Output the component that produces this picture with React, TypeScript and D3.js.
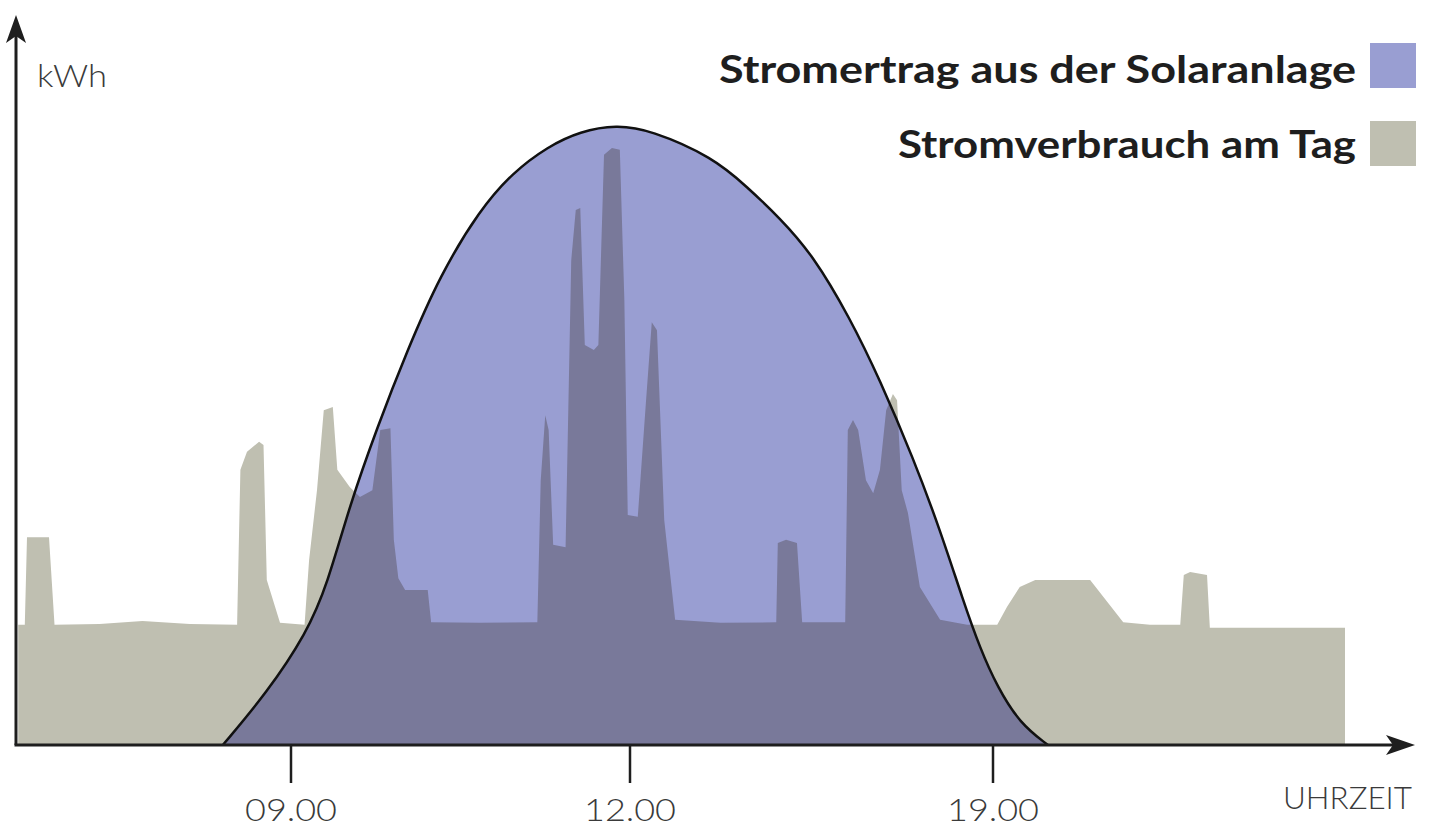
import React from "react";
import * as d3 from "d3";

// time of day (hours) and energy (kWh, schematic units)
const consumptionHours = [
  6.52, 6.58, 6.6, 6.8, 6.85, 7.26, 7.65, 8.08, 8.51, 8.54, 8.6, 8.71, 8.75, 8.78, 8.9,
  9.12, 9.16, 9.23, 9.29, 9.37, 9.41, 9.52, 9.61, 9.72, 9.79, 9.88, 9.91, 9.95, 10.01, 10.21, 10.24,
  10.67, 11.18, 11.21, 11.25, 11.28, 11.32, 11.43, 11.48, 11.52, 11.56, 11.6, 11.68, 11.72, 11.77,
  11.84, 11.91, 11.95, 11.98, 12.15, 12.31, 12.42, 12.52, 12.66, 12.87, 13.74, 14.82, 14.85, 15.01,
  15.22, 15.32, 16.15, 16.2, 16.3, 16.4, 16.55, 16.69, 16.82, 16.94, 17.07, 17.15, 17.24, 17.36,
  17.59, 17.98, 18.5, 19.06, 19.2, 19.38, 19.6, 20.38, 20.85, 21.23, 21.66, 21.71, 21.8, 22.04,
  22.08, 24.0,
];
const consumptionKWh = [
  1.94, 1.94, 3.35, 3.35, 1.94, 1.95, 2.0, 1.95, 1.94, 4.44, 4.73, 4.89, 4.84, 2.66, 1.97,
  1.94, 2.98, 4.11, 5.4, 5.45, 4.44, 4.16, 4.0, 4.11, 5.08, 5.11, 3.31, 2.69, 2.5, 2.5, 1.98,
  1.97, 1.98, 4.27, 5.32, 5.08, 3.23, 3.19, 7.82, 8.63, 8.66, 6.45, 6.37, 6.45, 9.52,
  9.63, 9.6, 7.18, 3.71, 3.68, 5.56, 6.82, 6.69, 3.63, 2.02, 1.97, 1.98, 3.26, 3.31,
  3.26, 1.98, 1.98, 5.08, 5.24, 5.08, 4.27, 4.06, 4.44, 5.4, 5.66, 5.56, 4.11, 3.74,
  2.55, 2.02, 1.94, 1.94, 2.23, 2.55, 2.66, 2.66, 1.98, 1.94, 1.94, 2.74, 2.79, 2.74,
  1.89, 1.89,
];
const solarHours = [
  8.38, 8.78, 9.14, 9.32, 9.52, 9.76, 10.03, 10.32, 10.67, 10.96, 11.27, 11.56, 11.88, 12.39,
  13.6, 14.26, 14.89, 15.53, 16.24, 16.82, 17.46, 17.98, 18.42, 18.75, 19.06, 19.38, 19.78,
];
const solarKWh = [
  0, 0.84, 1.81, 2.58, 3.87, 5.11, 6.37, 7.58, 8.63, 9.23, 9.65, 9.9, 10.0, 9.92,
  9.48, 9.0, 8.5, 7.9, 6.89, 5.89, 4.63, 3.47, 2.34, 1.56, 0.94, 0.35, 0,
];
const tickHours = [9, 12, 19];
const tickLabels = ["09.00", "12.00", "19.00"];
const legendLabels = ["Stromertrag aus der Solaranlage", "Stromverbrauch am Tag"];

const SOLAR = "#999ed2";
const GREY = "#bfbfb1";
const OVERLAP = "#79799a";
const INK = "#1e1e1e";

export default function App() {
  const W = 1429;
  const H = 828;
  const baseY = 745;
  const x = d3.scaleLinear().domain([6.5, 9, 12, 19, 24]).range([16, 291, 630, 993, 1345]);
  const y = d3.scaleLinear().domain([0, 10]).range([baseY, 125]);

  const cons = consumptionHours.map((h, i) => [h, consumptionKWh[i]] as [number, number]);
  const sol = solarHours.map((h, i) => [h, solarKWh[i]] as [number, number]);

  const consArea = d3
    .area<[number, number]>()
    .x((d) => x(d[0]))
    .y0(baseY)
    .y1((d) => y(d[1]))
    .curve(d3.curveLinear)(cons) as string;
  const solCurve = d3.curveBasis;
  const solArea = d3
    .area<[number, number]>()
    .x((d) => x(d[0]))
    .y0(baseY)
    .y1((d) => y(d[1]))
    .curve(solCurve)(sol) as string;
  const solLine = d3
    .line<[number, number]>()
    .x((d) => x(d[0]))
    .y((d) => y(d[1]))
    .curve(solCurve)(sol) as string;

  const light = { fontFamily: "Lato, 'Open Sans', sans-serif", fontWeight: 300, fill: "#3a3a3a" };
  const bold = { fontFamily: "Lato, 'Open Sans', sans-serif", fontWeight: 700, fill: INK };

  return (
    <svg
      width={W}
      height={H}
      style={{ position: "absolute", left: 0, top: 0, background: "#fff" }}
    >
      <defs>
        <clipPath id="solarClip">
          <path d={solArea} />
        </clipPath>
      </defs>
      <rect x={0} y={0} width={W} height={H} fill="#fff" />

      <path d={consArea} fill={GREY} />
      <path d={solArea} fill={SOLAR} />
      <path d={consArea} fill={OVERLAP} clipPath="url(#solarClip)" />
      <path d={solLine} fill="none" stroke="#111" strokeWidth={2.5} />

      {/* axes */}
      <line x1={16} y1={baseY} x2={16} y2={32} stroke={INK} strokeWidth={3} />
      <path d="M16,15 L6,43 L16,36 L26,43 Z" fill={INK} />
      <line x1={14.5} y1={baseY} x2={1400} y2={baseY} stroke={INK} strokeWidth={3} />
      <path d="M1415,745 L1386,735 L1393,745 L1386,755 Z" fill={INK} />

      {tickHours.map((h, i) => (
        <g key={h}>
          <line x1={x(h)} y1={baseY} x2={x(h)} y2={783} stroke={INK} strokeWidth={2.5} />
          <text
            x={x(h) - 46}
            y={821}
            fontSize={32}
            textLength={92}
            lengthAdjust="spacingAndGlyphs"
            {...light}
          >
            {tickLabels[i]}
          </text>
        </g>
      ))}

      <text x={1283} y={809} fontSize={31} textLength={129} lengthAdjust="spacingAndGlyphs" {...light}>
        UHRZEIT
      </text>
      <text x={37} y={87} fontSize={32} textLength={70} lengthAdjust="spacingAndGlyphs" {...light}>
        kWh
      </text>

      {/* legend */}
      <text x={719} y={83} fontSize={38} textLength={637} lengthAdjust="spacingAndGlyphs" {...bold}>
        {legendLabels[0]}
      </text>
      <rect x={1370} y={43} width={46} height={45} fill={SOLAR} />
      <text x={898} y={158} fontSize={38} textLength={458} lengthAdjust="spacingAndGlyphs" {...bold}>
        {legendLabels[1]}
      </text>
      <rect x={1370} y={121} width={46} height={45} fill={GREY} />
    </svg>
  );
}
